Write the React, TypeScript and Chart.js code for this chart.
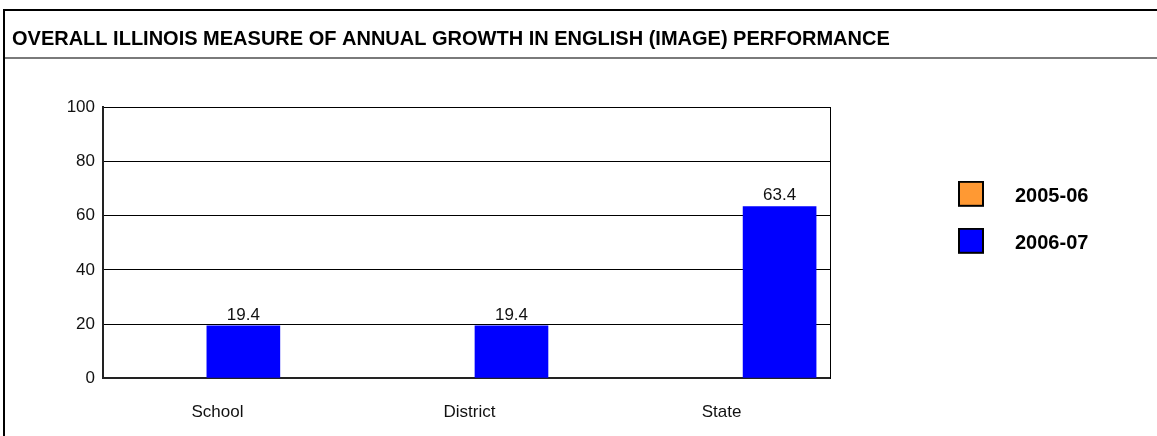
import React, { useEffect, useRef } from 'react';
import { Chart, registerables } from 'chart.js';

Chart.register(...registerables);

const TITLE = 'OVERALL ILLINOIS MEASURE OF ANNUAL GROWTH IN ENGLISH (IMAGE) PERFORMANCE';
const categories = ['School', 'District', 'State'];
const seriesNames = ['2005-06', '2006-07'];
const values2005: (number | null)[] = [null, null, null];
const values2006: (number | null)[] = [19.4, 19.4, 63.4];
const yTickValues = [0, 20, 40, 60, 80, 100];
const seriesColors = ['#FF9933', '#0000FF'];

const BOLD = "'Liberation Sans Narrow', 'Arial Narrow', 'Liberation Sans', Arial, sans-serif";
const SANS = "'Liberation Sans', Arial, sans-serif";

function makeSwatch(color: string) {
  const c = document.createElement('canvas');
  c.width = 26;
  c.height = 32;
  const g = c.getContext('2d')!;
  g.fillStyle = '#000';
  g.fillRect(0, 0, 26, 26);
  g.fillStyle = color;
  g.fillRect(2, 2, 22, 22);
  return c;
}

const valueLabelPlugin = {
  id: 'valueLabels',
  afterDatasetsDraw(chart: any) {
    const ctx = chart.ctx;
    ctx.save();
    ctx.font = `17px ${SANS}`;
    ctx.fillStyle = '#111';
    ctx.textAlign = 'center';
    ctx.textBaseline = 'alphabetic';
    chart.data.datasets.forEach((ds: any, di: number) => {
      const meta = chart.getDatasetMeta(di);
      if (meta.hidden) return;
      meta.data.forEach((el: any, i: number) => {
        const v = ds.data[i]?.y;
        if (v == null) return;
        ctx.fillText(v.toFixed(1), el.x, el.y - 6);
      });
    });
    ctx.restore();
  },
};

export default function App() {
  const canvasRef = useRef<HTMLCanvasElement | null>(null);

  useEffect(() => {
    const canvas = canvasRef.current;
    if (!canvas) return;
    const swatches = seriesColors.map(makeSwatch);
    const chart = new Chart(canvas, {
      type: 'bar',
      data: {
        datasets: [
          {
            label: seriesNames[0],
            data: values2005.map((v, i) => ({ x: i, y: v })) as any,
            backgroundColor: seriesColors[0],
            borderWidth: 0,
            barThickness: 73,
            grouped: false,
            xAxisID: 'x',
            yAxisID: 'y',
          },
          {
            label: seriesNames[1],
            data: values2006.map((v, i) => ({ x: i, y: v })) as any,
            backgroundColor: seriesColors[1],
            borderWidth: 0,
            barThickness: 73,
            grouped: false,
            xAxisID: 'x',
            yAxisID: 'y',
          },
        ],
      },
      options: {
        responsive: false,
        animation: false,
        events: [],
        layout: { padding: { left: 12, top: 0, right: 64, bottom: 0 } },
        scales: {
          x: {
            type: 'linear',
            display: false,
            offset: false,
            min: -0.5235,
            max: 2.188,
          },
          xl: {
            type: 'linear',
            position: 'bottom',
            offset: false,
            min: -0.454,
            max: 2.43,
            grid: { display: false, drawTicks: false, offset: false },
            border: { display: false },
            afterBuildTicks: (s: any) => {
              s.ticks = categories.map((_, i) => ({ value: i }));
            },
            afterFit: (s: any) => {
              s.height = 57.7;
            },
            ticks: {
              padding: 24,
              autoSkip: false,
              maxRotation: 0,
              color: '#111',
              font: { family: SANS, size: 17 },
              callback: (v: any) => categories[v] ?? '',
            },
          },
          y: {
            type: 'linear',
            position: 'left',
            min: 0,
            max: 100,
            afterBuildTicks: (s: any) => {
              s.ticks = yTickValues.map((v) => ({ value: v }));
            },
            afterFit: (s: any) => {
              s.width = 91;
            },
            grid: {
              drawTicks: false,
              color: (c: any) => (c.tick && c.tick.value === 0 ? '#222' : '#000'),
              lineWidth: (c: any) => (c.tick && c.tick.value === 0 ? 2 : 1),
            },
            border: { display: true, color: '#222', width: 2 },
            ticks: {
              padding: 8,
              color: '#111',
              font: { family: SANS, size: 17 },
            },
          },
          yr: {
            type: 'linear',
            position: 'right',
            display: true,
            grid: { display: false, drawTicks: false },
            ticks: { display: false },
            border: { display: true, color: '#000', width: 1 },
            afterFit: (s: any) => {
              s.width = 80;
            },
          },
        },
        plugins: {
          tooltip: { enabled: false },
          title: {
            display: true,
            text: TITLE,
            align: 'start',
            position: 'top',
            color: '#000',
            font: { family: BOLD, size: 20, weight: 'bold', lineHeight: 1.2 },
            padding: { top: 27.3, bottom: 56 },
          },
          legend: {
            display: true,
            position: 'right',
            align: 'start',
            fullSize: false,
            maxWidth: 183,
            title: {
              display: true,
              text: ' ',
              font: { size: 10, lineHeight: 1 },
              padding: { top: 42.5, bottom: 0 },
            },
            labels: {
              usePointStyle: true,
              pointStyleWidth: 68,
              padding: 27,
              color: '#000',
              font: { family: BOLD, size: 20, weight: 'bold' },
              generateLabels: (ch: any) => {
                const base = (Chart.defaults.plugins.legend.labels as any).generateLabels(ch);
                return base.map((item: any) => ({
                  ...item,
                  pointStyle: swatches[item.datasetIndex],
                  lineWidth: 0,
                }));
              },
            },
          },
        },
      } as any,
      plugins: [valueLabelPlugin],
    });
    return () => chart.destroy();
  }, []);

  return (
    <div
      style={{
        position: 'fixed',
        left: 0,
        top: 0,
        width: 1157,
        height: 436,
        overflow: 'hidden',
        background: '#fff',
      }}
    >
      <canvas ref={canvasRef} width={1157} height={436} style={{ position: 'absolute', left: 0, top: 0 }} />
      <div style={{ position: 'absolute', left: 3, top: 9, width: 1160, height: 2, background: '#000', pointerEvents: 'none' }} />
      <div style={{ position: 'absolute', left: 3, top: 9, width: 2, height: 440, background: '#000', pointerEvents: 'none' }} />
      <div style={{ position: 'absolute', left: 5, top: 57, width: 1160, height: 2, background: '#7a7a7a', pointerEvents: 'none' }} />
    </div>
  );
}
